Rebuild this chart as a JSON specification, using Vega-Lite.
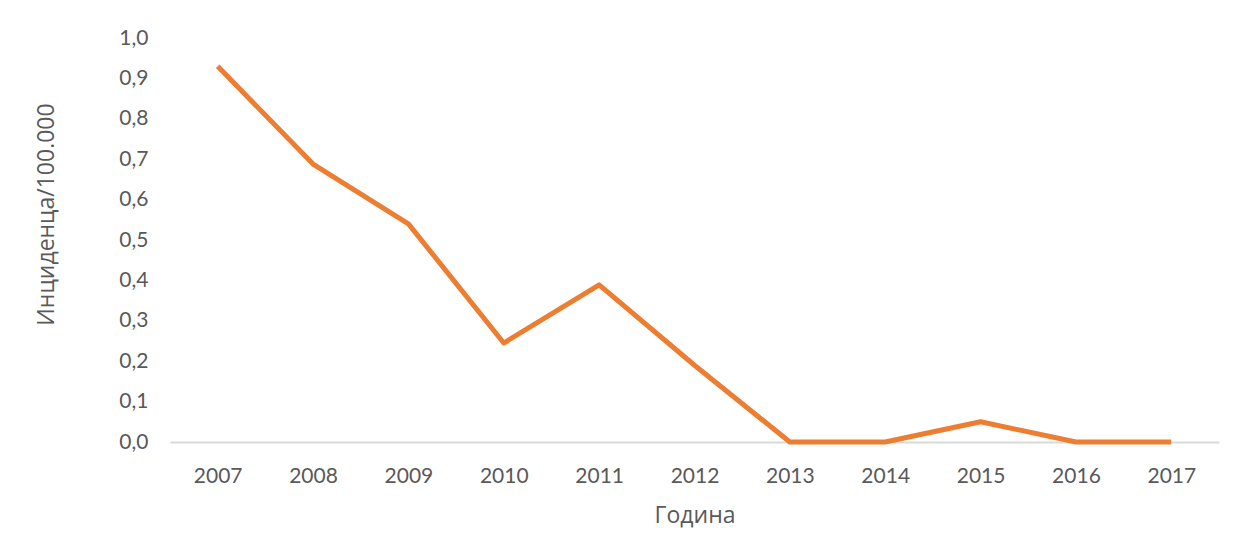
{
  "$schema": "https://vega.github.io/schema/vega-lite/v6.json",
  "width": 1049,
  "height": 404,
  "autosize": "none",
  "padding": {"left": 170, "top": 38, "right": 17, "bottom": 104},
  "background": "white",
  "config": {
    "view": {"stroke": null},
    "font": "Lato",
    "axis": {
      "labelFont": "Lato",
      "titleFont": "Open Sans",
      "labelColor": "#595959",
      "titleColor": "#595959",
      "labelFontSize": 21,
      "titleFontSize": 23,
      "titleFontWeight": "normal",
      "grid": false,
      "ticks": false
    }
  },
  "data": {
    "values": [
      {"year": "2007", "value": 0.93},
      {"year": "2008", "value": 0.688},
      {"year": "2009", "value": 0.54},
      {"year": "2010", "value": 0.245},
      {"year": "2011", "value": 0.389},
      {"year": "2012", "value": 0.19},
      {"year": "2013", "value": 0.0},
      {"year": "2014", "value": 0.0},
      {"year": "2015", "value": 0.05},
      {"year": "2016", "value": 0.0},
      {"year": "2017", "value": 0.0}
    ]
  },
  "mark": {"type": "line", "color": "#ED7D31", "strokeWidth": 5, "strokeJoin": "round", "strokeCap": "butt"},
  "encoding": {
    "x": {
      "field": "year",
      "type": "ordinal",
      "scale": {"type": "point", "padding": 0.5},
      "axis": {
        "title": "Година",
        "labelAngle": 0,
        "labelPadding": 23,
        "titlePadding": 18,
        "domain": true,
        "domainColor": "#D9D9D9",
        "domainWidth": 2
      }
    },
    "y": {
      "field": "value",
      "type": "quantitative",
      "scale": {"domain": [0, 1], "nice": false, "zero": true},
      "axis": {
        "title": "Инциденца/100.000",
        "values": [0, 0.1, 0.2, 0.3, 0.4, 0.5, 0.6, 0.7, 0.8, 0.9, 1.0],
        "labelExpr": "replace(format(datum.value, '.1f'), '.', ',')",
        "domain": false,
        "labelPadding": 22,
        "titleX": -112,
        "titleY": 176
      }
    }
  }
}
